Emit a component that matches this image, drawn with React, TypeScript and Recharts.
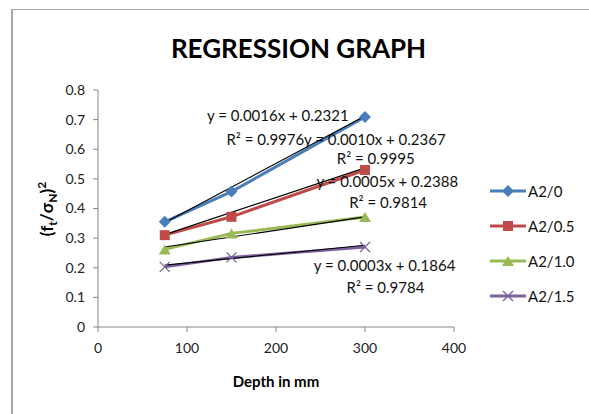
import React from "react";
import { ComposedChart, Line, XAxis, YAxis, ReferenceDot } from "recharts";

// depth (mm) and the four measured series
const depth = [75, 150, 300];
const a2_0 = [0.355, 0.457, 0.709];
const a2_05 = [0.31, 0.372, 0.53];
const a2_10 = [0.262, 0.316, 0.371];
const a2_15 = [0.203, 0.235, 0.27];

// linear trendlines, start and end of the fitted range
const trendDepth = [75, 300];
const trend_0 = [0.352, 0.712];
const trend_05 = [0.312, 0.537];
const trend_10 = [0.27, 0.372];
const trend_15 = [0.209, 0.276];

const xTicks = [0, 100, 200, 300, 400];
const yTicks = [0, 0.1, 0.2, 0.3, 0.4, 0.5, 0.6, 0.7, 0.8];

// trendline equation labels (anchored in data coordinates)
const eqLabels = [
  { text: "y = 0.0016x + 0.2321", x: 202, y: 0.712 },
  { text: "R\u00b2 = 0.9976", x: 188, y: 0.631 },
  { text: "y = 0.0010x + 0.2367", x: 311, y: 0.631 },
  { text: "R\u00b2 = 0.9995", x: 312, y: 0.567 },
  { text: "y = 0.0005x + 0.2388", x: 325, y: 0.489 },
  { text: "R\u00b2 = 0.9814", x: 326, y: 0.419 },
  { text: "y = 0.0003x + 0.1864", x: 322, y: 0.206 },
  { text: "R\u00b2 = 0.9784", x: 323, y: 0.132 },
];

const FONT = "Lato, 'Open Sans', sans-serif";
const AXIS = "#868686";

type Shape = "diamond" | "square" | "triangle" | "cross";

function marker(shape: Shape, cx: number, cy: number, color: string, key?: string) {
  if (shape === "diamond")
    return <path key={key} d={`M${cx},${cy - 6}L${cx + 6},${cy}L${cx},${cy + 6}L${cx - 6},${cy}Z`} fill={color} />;
  if (shape === "square")
    return <rect key={key} x={cx - 5} y={cy - 5} width={10} height={10} fill={color} />;
  if (shape === "triangle")
    return <path key={key} d={`M${cx},${cy - 5}L${cx + 6},${cy + 5}L${cx - 6},${cy + 5}Z`} fill={color} />;
  return (
    <g key={key} stroke={color} strokeWidth={1.3}>
      <line x1={cx - 5} y1={cy - 5} x2={cx + 5} y2={cy + 5} />
      <line x1={cx - 5} y1={cy + 5} x2={cx + 5} y2={cy - 5} />
    </g>
  );
}

const series = [
  { name: "A2/0", values: a2_0, trend: trend_0, color: "#4A7EBB", shape: "diamond" as Shape },
  { name: "A2/0.5", values: a2_05, trend: trend_05, color: "#BE4B48", shape: "square" as Shape },
  { name: "A2/1.0", values: a2_10, trend: trend_10, color: "#98B954", shape: "triangle" as Shape },
  { name: "A2/1.5", values: a2_15, trend: trend_15, color: "#7D60A0", shape: "cross" as Shape },
];

function YLabel() {
  return (
    <text
      transform="translate(53,209) rotate(-90)"
      textAnchor="middle"
      fontFamily={FONT}
      fontWeight="bold"
      fontSize={17}
      fill="#000"
    >
      (f<tspan fontSize={12} dy={4}>t</tspan>
      <tspan dy={-4}>/σ</tspan>
      <tspan fontSize={12} dy={4}>N</tspan>
      <tspan dy={-4}>)</tspan>
      <tspan fontSize={12} dy={-7}>2</tspan>
    </text>
  );
}

export default function App() {
  return (
    <div style={{ position: "absolute", left: 0, top: 0, width: 589, height: 414, background: "#fff", fontFamily: FONT }}>
      <div style={{ position: "absolute", left: 11, top: 9, right: 0, bottom: 0, borderLeft: "2px solid #a6a6a6", borderTop: "1px solid #a6a6a6" }} />
      <div style={{ position: "absolute", left: 0, width: 597, top: 32, textAlign: "center", fontSize: 26, fontWeight: "bold", color: "#000" }}>
        REGRESSION GRAPH
      </div>
      <ComposedChart width={589} height={414} margin={{ top: 90, right: 135, bottom: 57, left: 38 }} style={{ position: "absolute", left: 0, top: 0 }}>
        <XAxis
          type="number"
          dataKey="x"
          domain={[0, 400]}
          ticks={xTicks}
          stroke={AXIS}
          tickSize={5}
          tickMargin={11}
          height={30}
          tick={{ fill: "#222", fontSize: 14, fontFamily: FONT }}
          allowDuplicatedCategory={false}
        />
        <YAxis
          type="number"
          domain={[0, 0.8]}
          ticks={yTicks}
          stroke={AXIS}
          tickSize={5}
          tickMargin={8}
          width={60}
          tick={{ fill: "#222", fontSize: 14, fontFamily: FONT }}
        />
        {series.map((s) => (
          <Line
            key={s.name}
            data={depth.map((d, i) => ({ x: d, y: s.values[i] }))}
            dataKey="y"
            name={s.name}
            stroke={s.color}
            strokeWidth={3}
            isAnimationActive={false}
            dot={(p: any) => marker(s.shape, p.cx, p.cy, s.color, `${s.name}-${p.index}`)}
            activeDot={false}
          />
        ))}
        {series.map((s) => (
          <Line
            key={`trend-${s.name}`}
            data={trendDepth.map((d, i) => ({ x: d, y: s.trend[i] }))}
            dataKey="y"
            stroke="#000"
            strokeWidth={1.2}
            dot={false}
            activeDot={false}
            isAnimationActive={false}
            legendType="none"
          />
        ))}
        {eqLabels.map((l) => (
          <ReferenceDot
            key={l.text}
            x={l.x}
            y={l.y}
            r={0}
            fill="none"
            stroke="none"
            label={{ value: l.text, position: "center", fill: "#111", fontSize: 15, fontFamily: FONT }}
          />
        ))}
        <text x={276} y={387} textAnchor="middle" fontFamily={FONT} fontWeight="bold" fontSize={15} fill="#000">
          Depth in mm
        </text>
        <YLabel />
      </ComposedChart>
      <div style={{ position: "absolute", left: 488, top: 173 }}>
        {series.map((s) => (
          <div key={s.name} style={{ display: "flex", alignItems: "center", height: 35, fontSize: 15, color: "#111" }}>
            <svg width={40} height={20}>
              <line x1={2} y1={10} x2={38} y2={10} stroke={s.color} strokeWidth={3} />
              {marker(s.shape, 20, 10, s.color)}
            </svg>
            <span>{s.name}</span>
          </div>
        ))}
      </div>
    </div>
  );
}
